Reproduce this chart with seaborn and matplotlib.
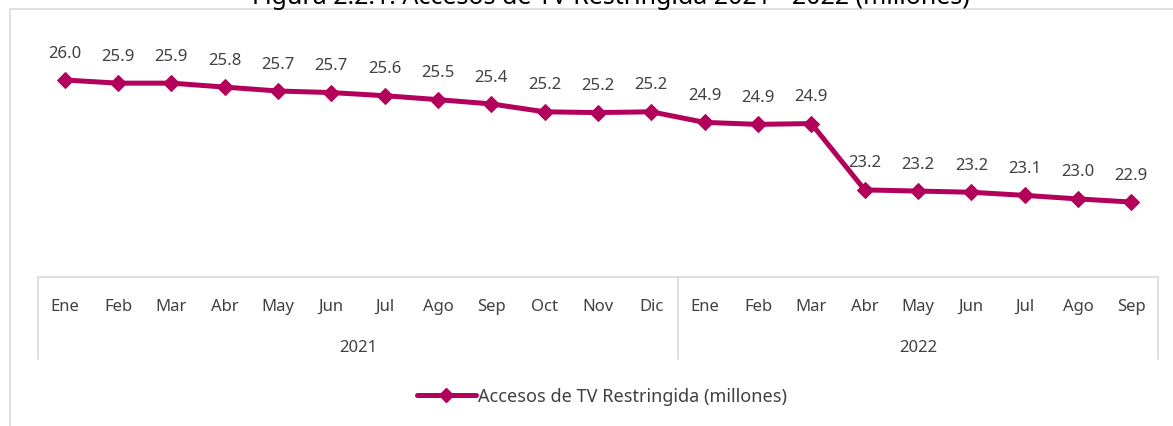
import numpy as np
import pandas as pd
import matplotlib
matplotlib.use("Agg")
import matplotlib.pyplot as plt
from matplotlib.lines import Line2D
import matplotlib.transforms as mtransforms
import seaborn as sns

# Datos (millones de accesos)
meses = ["Ene", "Feb", "Mar", "Abr", "May", "Jun", "Jul", "Ago", "Sep", "Oct", "Nov", "Dic",
         "Ene", "Feb", "Mar", "Abr", "May", "Jun", "Jul", "Ago", "Sep"]
anios = ["2021"] * 12 + ["2022"] * 9
accesos = [26.02, 25.94, 25.94, 25.84, 25.74, 25.70, 25.62, 25.52, 25.41, 25.21, 25.19, 25.21,
           24.94, 24.89, 24.91, 23.22, 23.19, 23.16, 23.08, 22.99, 22.91]
serie = "Accesos de TV Restringida (millones)"
titulo = "Figura 2.2.1. Accesos de TV Restringida 2021 - 2022 (millones)"

COLOR = "#B3005A"
GRIS = "#D9D9D9"
TEXTO = "#404040"
FS = 12

sns.set_theme(style="white")
plt.rcParams["font.family"] = ["Noto Sans", "DejaVu Sans"]

df = pd.DataFrame({"pos": np.arange(len(accesos)), "valor": accesos, "mes": meses, "anio": anios})

fig = plt.figure(figsize=(11.73, 4.27), dpi=100)
ax = fig.add_axes([38 / 1173, 1 - 278 / 427, 1120 / 1173, 248 / 427])

sns.lineplot(data=df, x="pos", y="valor", ax=ax, color=COLOR, linewidth=3.6,
             marker="D", markersize=8, markeredgecolor=COLOR, label=serie, legend=False)

ax.set_xlim(-0.5, len(accesos) - 0.5)
ax.set_ylim(21.0, 27.32)
ax.set_xlabel("")
ax.set_ylabel("")
ax.set_yticks([])
for s in ["top", "left", "right"]:
    ax.spines[s].set_visible(False)
ax.spines["bottom"].set_color(GRIS)
ax.spines["bottom"].set_linewidth(1.2)

# Etiquetas de datos
for x, v in zip(df["pos"], df["valor"]):
    ax.annotate(f"{v:.1f}", (x, v), xytext=(0, 14), textcoords="offset points",
                ha="center", va="bottom", fontsize=FS, color=TEXTO)

# Eje de categorías en dos niveles
ax.set_xticks(df["pos"])
ax.set_xticklabels(df["mes"], fontsize=FS, color=TEXTO)
ax.tick_params(axis="x", length=0, pad=15)

trans = mtransforms.blended_transform_factory(ax.transData, ax.transAxes)
bordes = [-0.5, 11.5, len(accesos) - 0.5]
for b in bordes:
    ax.plot([b, b], [0, -82 / 248], transform=trans, color=GRIS, linewidth=1.2, clip_on=False)
for anio in ["2021", "2022"]:
    sub = df[df["anio"] == anio]["pos"]
    ax.text((sub.min() + sub.max()) / 2, -70 / 248, anio, transform=trans,
            ha="center", va="center", fontsize=FS, color=TEXTO)

# Título (recortado en la parte superior como en la original)
fig.text(0.521, 1 - 4 / 427, titulo, ha="center", va="baseline", fontsize=18, color="#000000")

# Marco
fig.add_artist(Line2D([10 / 1173, 1], [1 - 10 / 427, 1 - 10 / 427], transform=fig.transFigure,
                      color=GRIS, linewidth=1.2))
fig.add_artist(Line2D([10 / 1173, 10 / 1173], [0, 1 - 10 / 427], transform=fig.transFigure,
                      color=GRIS, linewidth=1.2))

handle = Line2D([], [], color=COLOR, linewidth=3.6, marker="D", markersize=7)
fig.legend([handle], [serie], loc="center", bbox_to_anchor=(0.513, 1 - 397 / 427),
           frameon=False, fontsize=13, handlelength=3.3, handletextpad=0.1,
           labelcolor=TEXTO)

fig.savefig("out.png", dpi=100)
